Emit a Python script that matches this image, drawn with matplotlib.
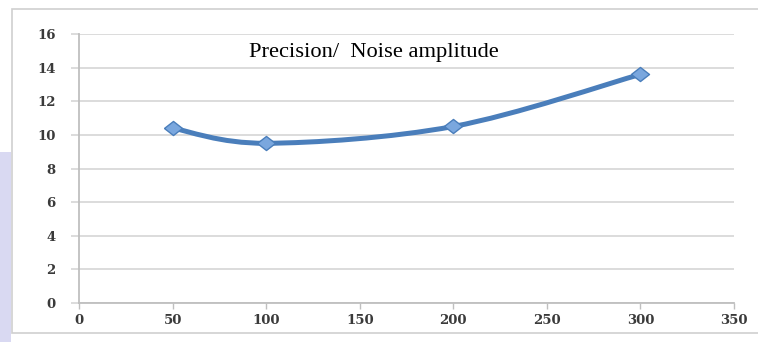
import numpy as np
import matplotlib.pyplot as plt
from matplotlib.path import Path
from matplotlib.patches import PathPatch, Rectangle

# Precision versus noise amplitude
noise = [50, 100, 200, 300]
precision = [10.4, 9.5, 10.5, 13.6]
title = "Precision/  Noise amplitude"

line_col = "#4a7ebb"
grid_col = "#d9d9d9"
tick_col = "#3a3a3a"

fig = plt.figure(figsize=(7.58, 3.42), dpi=100)

# lavender strip on the far left, chart frame
fig.patches.append(Rectangle((0, 0), 11 / 758, 190 / 342, transform=fig.transFigure,
                             facecolor="#d9d9f2", edgecolor="none", zorder=-2))
fig.patches.append(Rectangle((12 / 758, 9 / 342), 0.99, 324 / 342,
                             transform=fig.transFigure, facecolor="white",
                             edgecolor="#cfcfcf", linewidth=1.2, zorder=-1))

ax = fig.add_axes([79 / 758, 1 - 303 / 342, 655 / 758, 269 / 342], zorder=2)
ax.set_facecolor("none")
ax.set_xlim(0, 350)
ax.set_ylim(0, 16)
ax.set_xticks(range(0, 351, 50))
ax.set_yticks(range(0, 17, 2))
ax.grid(axis="y", color=grid_col, linewidth=1.3)
ax.set_axisbelow(True)
for side in ("top", "right"):
    ax.spines[side].set_visible(False)
for side in ("left", "bottom"):
    ax.spines[side].set_color("#bfbfbf")
    ax.spines[side].set_linewidth(1.3)
ax.tick_params(axis="y", length=6, color=grid_col, width=1.3, pad=11)
ax.tick_params(axis="x", length=4, color="#bfbfbf", width=1.0, pad=4)
for lbl in ax.get_xticklabels() + ax.get_yticklabels():
    lbl.set_fontfamily("DejaVu Serif")
    lbl.set_fontweight("bold")
    lbl.set_fontsize(9.5)
    lbl.set_color(tick_col)

# smoothed line: cubic Bezier segments (Catmull-Rom style control points)
x = np.array(noise, dtype=float)
y = np.array(precision, dtype=float)
verts = [(x[0], y[0])]
codes = [Path.MOVETO]
n = len(x)
for i in range(n - 1):
    p0 = np.array([x[max(i - 1, 0)], y[max(i - 1, 0)]])
    p1 = np.array([x[i], y[i]])
    p2 = np.array([x[i + 1], y[i + 1]])
    p3 = np.array([x[min(i + 2, n - 1)], y[min(i + 2, n - 1)]])
    c1 = p1 + (p2 - p0) / 6
    c2 = p2 - (p3 - p1) / 6
    verts += [tuple(c1), tuple(c2), tuple(p2)]
    codes += [Path.CURVE4] * 3
ax.add_patch(PathPatch(Path(verts, codes), facecolor="none", edgecolor=line_col,
                       linewidth=3.6, capstyle="round", zorder=3))

# flattened diamond markers
diamond = [(-1, 0), (0, 0.78), (1, 0), (0, -0.78), (-1, 0)]
ax.plot(noise, precision, linestyle="none", marker=diamond, markersize=13,
        markerfacecolor="#7aa7de", markeredgecolor="#4a7ebb", markeredgewidth=1.0, zorder=4)

fig.text(374 / 758, 1 - 52 / 342, title, ha="center", va="center",
         fontfamily="Liberation Serif", fontsize=16.2, color="black", zorder=5)

fig.savefig("out.png", dpi=100)
